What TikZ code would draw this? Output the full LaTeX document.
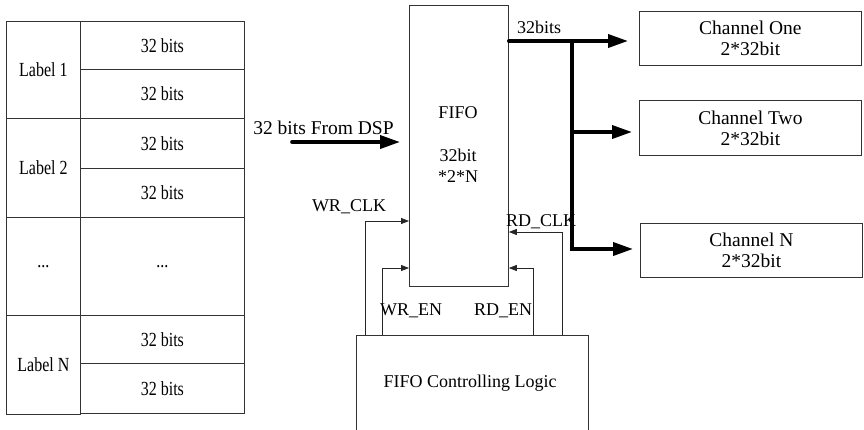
\documentclass[tikz,border=0pt]{standalone}
\usepackage{fontspec}
\setmainfont{Liberation Serif}
\newfontfamily\condf{Liberation Serif}[FakeStretch=0.8]
\usetikzlibrary{arrows.meta}
\begin{document}
\begin{tikzpicture}[x=1pt,y=-1pt,
  font=\fontsize{18}{21}\selectfont,
  cell/.style={draw=black!80, line width=0.8pt, anchor=north west, inner sep=0pt,
    font=\condf\fontsize{20}{23}\selectfont},
  box/.style={draw=black!80, line width=0.8pt, anchor=north west, inner sep=0pt, align=center},
  chbox/.style={box, font=\fontsize{19.5}{21}\selectfont},
  ctl/.style={draw=black!85, line width=0.8pt, -{Triangle[length=8pt,width=6pt]}},
  bus/.style={line width=3.6pt, line cap=round, -{Triangle[length=20pt,width=13pt]}},
  lbl/.style={inner sep=0pt}]
\useasboundingbox (0,0) rectangle (864,429);
% left table
\node[cell, minimum width=74pt, minimum height=97pt] (l1) at (6,21) {Label 1};
\node[cell, minimum width=74pt, minimum height=99pt] (l2) at (6,118) {Label 2};
\node[cell, minimum width=74pt, minimum height=98pt] (l3) at (6,217) {...};
\node[cell, minimum width=74pt, minimum height=99pt] (lN) at (6,315) {Label N};
\node[cell, minimum width=164pt, minimum height=48pt] (d1) at (80,21) {32 bits};
\node[cell, minimum width=164pt, minimum height=49pt] (d2) at (80,69) {32 bits};
\node[cell, minimum width=164pt, minimum height=50pt] (d3) at (80,118) {32 bits};
\node[cell, minimum width=164pt, minimum height=49pt] (d4) at (80,168) {32 bits};
\node[cell, minimum width=164pt, minimum height=98pt] (d5) at (80,217) {...};
\node[cell, minimum width=164pt, minimum height=48pt] (d6) at (80,315) {32 bits};
\node[cell, minimum width=164pt, minimum height=50pt] (d7) at (80,363) {32 bits};
% FIFO
\node[box, minimum width=99pt, minimum height=281pt] (fifo) at (409,5) {};
\node[lbl] (fifot) at (458,113) {FIFO};
\node[lbl, align=center] (fifos) at (458,166) {32bit\\*2*N};
% channels
\node[chbox, minimum width=222pt, minimum height=54pt] (ch1) at (639,11) {Channel One\\2*32bit};
\node[chbox, minimum width=222pt, minimum height=55pt] (ch2) at (639,100) {Channel Two\\2*32bit};
\node[chbox, minimum width=222pt, minimum height=54pt] (chN) at (640,223) {Channel N\\2*32bit};
% logic
\node[box, minimum width=232pt, minimum height=110pt] (logic) at (356,335) {};
\node[lbl] (logict) at (470,383) {FIFO Controlling Logic};
% input
\coordinate (dsp) at (292,142);
\node[lbl, font=\fontsize{19.5}{21}\selectfont] (dspt) at (323.5,128) {32 bits From DSP};
\draw[bus] (dsp) -- ([xshift=-9pt]fifo.west |- dsp);
% output bus
\coordinate (br) at (572,41);
\coordinate (brm) at (572,132);
\coordinate (brN) at (572,249);
\node[lbl] (outt) at (539,27) {32bits};
\draw[line width=3.6pt, line cap=round] (fifo.east |- br) -- (br);
\draw[bus, line cap=butt, line join=miter, shorten >=11pt] (br) -- (ch1.west |- br);
\draw[bus, line cap=butt, line join=miter, shorten >=7pt] (br) -- (brN) -- (chN.west |- brN);
\draw[bus, line cap=butt, shorten >=7pt] (brm) -- (ch2.west |- brm);
% control lines
\coordinate (xwc) at (365,221);
\coordinate (xwe) at (382,268);
\coordinate (xre) at (533,268);
\coordinate (xrc) at (562,232);
\draw[ctl] (xwc |- logic.north) |- (fifo.west |- xwc);
\draw[ctl] (xwe |- logic.north) |- (fifo.west |- xwe);
\draw[ctl] (xre |- logic.north) |- (fifo.east |- xre);
\draw[ctl] (xrc |- logic.north) |- (fifo.east |- xrc);
\node[lbl] (wrclk) at (349,207) {WR\_CLK};
\node[lbl] (rdclk) at (541,222) {RD\_CLK};
\node[lbl] (wren) at (411,311) {WR\_EN};
\node[lbl] (rden) at (503,311) {RD\_EN};
\end{tikzpicture}
\end{document}
